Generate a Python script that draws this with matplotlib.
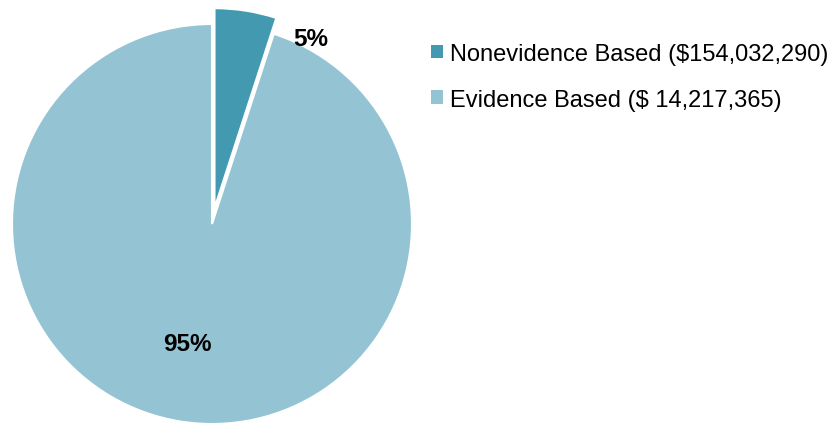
import matplotlib.pyplot as plt
import numpy as np
from matplotlib.patches import Patch

# Shares shown on the chart
labels = ['Nonevidence Based ($154,032,290)', 'Evidence Based ($ 14,217,365)']
shares = [5, 95]
pct_text = ['5%', '95%']
colors = ['#4299b0', '#94c4d4']

plt.rcParams['font.family'] = ['Liberation Sans', 'DejaVu Sans']

W, H = 836, 431
fig = plt.figure(figsize=(W / 100, H / 100), dpi=100)

# pie circle: centre (212, 225) px, radius 200 px
cx, cy, r = 212, 225, 200
ax = fig.add_axes([(cx - r) / W, (H - cy - r) / H, 2 * r / W, 2 * r / H])
wedges, _ = ax.pie(shares, colors=colors, startangle=90, counterclock=False,
                   explode=[0.08, 0], radius=1,
                   wedgeprops=dict(edgecolor='white', linewidth=1.5))
for w in wedges:
    w.set_clip_on(False)
ax.set_xlim(-1, 1)
ax.set_ylim(-1, 1)
ax.set_aspect('equal')
ax.axis('off')

# percentage labels (radius, extra angle offset in degrees)
label_r = [1.05, 0.61]
label_shift = [-19, -2.5]
for w, txt, rr, sh in zip(wedges, pct_text, label_r, label_shift):
    mid = np.deg2rad((w.theta1 + w.theta2) / 2 + sh)
    ax.text(rr * np.cos(mid), rr * np.sin(mid), txt, ha='center', va='center',
            fontsize=17.5, fontweight='bold', color='black', clip_on=False)

handles = [Patch(facecolor=c, edgecolor='none') for c in colors]
fig.legend(handles, labels, loc='upper left', bbox_to_anchor=(431 / W, 1 - 44 / H),
           frameon=False, fontsize=17, handlelength=0.5, handleheight=0.5,
           handletextpad=0.3, labelspacing=1.0, borderpad=0, borderaxespad=0)

fig.savefig('out.png', dpi=100)
